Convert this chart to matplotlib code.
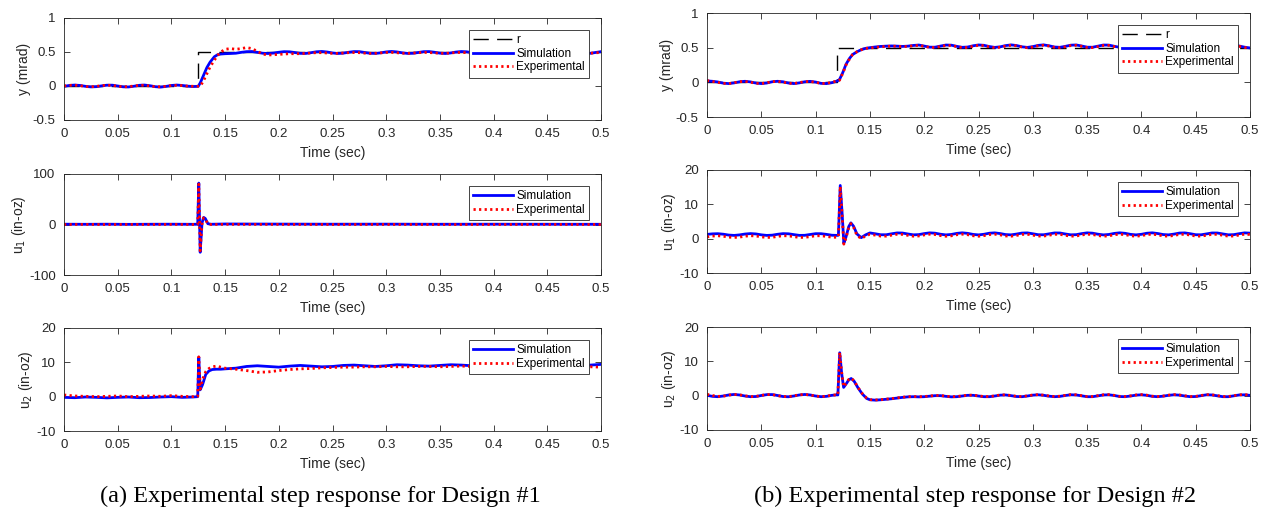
import numpy as np
import matplotlib
matplotlib.use("Agg")
import matplotlib.pyplot as plt

plt.rcParams['font.family'] = ['Liberation Sans', 'DejaVu Sans']
plt.rcParams['axes.unicode_minus'] = False


def grid(a, b, step=0.005):
    return np.round(np.arange(a, b + step / 2, step), 4)


# ---------------- Design #1 ----------------
# y (mrad)
t_ay = np.concatenate([grid(0, 0.125), [0.127, 0.130, 0.133, 0.136, 0.140, 0.143, 0.146], grid(0.15, 0.5)])
ay_sim = [-0.005, 0.008, 0.014, 0.008, -0.005, -0.013, -0.010, 0.002, 0.012, 0.012,
          0.000, -0.012, -0.014, -0.004, 0.010, 0.014, 0.004, -0.010, -0.016, -0.006,
          0.008, 0.014, 0.008, -0.002, -0.008, -0.005,
          0.05, 0.16, 0.27, 0.35, 0.43, 0.46, 0.47,
          0.475, 0.478, 0.482, 0.495, 0.505, 0.507, 0.495, 0.482, 0.478, 0.484,
          0.496, 0.505, 0.503, 0.492, 0.480, 0.479, 0.490, 0.503, 0.508, 0.500,
          0.486, 0.478, 0.483, 0.496, 0.506, 0.505, 0.493, 0.481, 0.479, 0.488,
          0.501, 0.508, 0.501, 0.488, 0.479, 0.481, 0.493, 0.505, 0.506, 0.496,
          0.483, 0.478, 0.486, 0.499, 0.507, 0.503, 0.490, 0.480, 0.480, 0.491,
          0.503, 0.507, 0.499, 0.486, 0.478, 0.483, 0.495, 0.506, 0.505, 0.494,
          0.482, 0.478, 0.487, 0.500, 0.508, 0.502, 0.489, 0.480, 0.481, 0.493,
          0.505]
ay_exp = [0.000, 0.010, 0.012, 0.004, -0.008, -0.012, -0.006, 0.006, 0.012, 0.008,
          -0.004, -0.012, -0.010, 0.000, 0.010, 0.010, 0.000, -0.010, -0.012, -0.004,
          0.006, 0.010, 0.006, -0.002, -0.004, -0.004,
          0.00, 0.08, 0.18, 0.28, 0.38, 0.45, 0.50,
          0.540, 0.550, 0.540, 0.550, 0.565, 0.550, 0.510, 0.470, 0.455, 0.460,
          0.465, 0.470, 0.475, 0.475, 0.475, 0.480, 0.485, 0.490, 0.490, 0.485,
          0.480, 0.480, 0.485, 0.490, 0.492, 0.490, 0.483, 0.480, 0.481, 0.487,
          0.493, 0.494, 0.489, 0.482, 0.480, 0.484, 0.490, 0.494, 0.492, 0.486,
          0.481, 0.481, 0.486, 0.492, 0.494, 0.490, 0.484, 0.480, 0.482, 0.488,
          0.493, 0.494, 0.488, 0.482, 0.480, 0.484, 0.490, 0.494, 0.492, 0.486,
          0.481, 0.481, 0.486, 0.492, 0.494, 0.490, 0.484, 0.480, 0.482, 0.488,
          0.493]
t_ra = [0, 0.125, 0.125, 0.5]
r_a = [0, 0, 0.5, 0.5]

# u1 (in-oz)
t_au1 = [0, 0.02, 0.04, 0.06, 0.08, 0.1, 0.12, 0.1245, 0.1255, 0.1268, 0.1285, 0.1300,
         0.1315, 0.1340, 0.1370, 0.15, 0.2, 0.25, 0.3, 0.35, 0.4, 0.45, 0.5]
au1_sim = [0.6, 0.4, 0.6, 0.3, 0.5, 0.6, 0.4, 0.5, 82, -55, 3, 14, 12, 1.5, 0.5,
           1.0, 0.8, 0.6, 0.7, 0.5, 0.6, 0.5, 0.4]
au1_exp = [0.0, 0.2, -0.1, 0.1, 0.0, 0.2, 0.0, 0.0, 80, -52, 1, 13, 11, 1.0, 0.0,
           0.3, 0.2, 0.0, 0.1, -0.1, 0.0, 0.1, 0.0]

# u2 (in-oz)
t_au2 = np.concatenate([grid(0, 0.12, 0.01),
                        [0.1245, 0.1255, 0.1268, 0.129, 0.132, 0.135, 0.138, 0.142, 0.146],
                        grid(0.15, 0.5, 0.01)])
au2_sim = [-0.2, -0.3, -0.1, -0.2, -0.35, -0.2, -0.1, -0.3, -0.25, -0.1, 0.0, -0.2, -0.1,
           0.0, 11.5, 2.0, 3.5, 6.5, 7.5, 7.9, 8.0, 8.0,
           8.1, 8.3, 8.8, 9.0, 8.8, 8.6, 8.9, 9.1, 8.9, 8.7,
           8.8, 9.1, 9.2, 9.0, 8.8, 9.0, 9.3, 9.2, 9.0, 8.9,
           9.1, 9.3, 9.2, 9.0, 9.0, 9.2, 9.4, 9.2, 9.0, 9.1,
           9.3, 9.4, 9.2, 9.1, 9.2, 9.4]
au2_exp = [0.5, 0.2, 0.1, 0.0, 0.1, 0.2, 0.0, 0.1, 0.2, 0.1, 0.3, 0.1, 0.0,
           0.1, 11.6, 2.2, 5.0, 7.3, 8.2, 8.7, 8.9, 8.6,
           8.3, 8.0, 7.6, 7.1, 7.2, 7.6, 7.9, 8.1, 8.2, 8.4,
           8.5, 8.6, 8.6, 8.7, 8.7, 8.8, 8.7, 8.7, 8.8, 8.8,
           8.7, 8.8, 8.9, 8.8, 8.7, 8.8, 8.9, 8.8, 8.7, 8.7,
           8.8, 8.7, 8.6, 8.6, 8.7, 8.6]

# ---------------- Design #2 ----------------
t_by = np.concatenate([grid(0, 0.12), [0.122, 0.125, 0.128, 0.131, 0.134, 0.138, 0.142, 0.146], grid(0.15, 0.5)])
by_sim = [0.020, 0.015, 0.005, -0.012, -0.018, -0.008, 0.008, 0.015, 0.006, -0.010,
          -0.018, -0.010, 0.008, 0.015, 0.008, -0.010, -0.018, -0.008, 0.008, 0.014,
          0.004, -0.015, -0.018, -0.005, 0.020,
          0.04, 0.14, 0.26, 0.34, 0.40, 0.44, 0.47, 0.49,
          0.500, 0.510, 0.518, 0.522, 0.525, 0.522, 0.518, 0.522, 0.532,
          0.538, 0.523, 0.507, 0.507, 0.523, 0.538, 0.536, 0.519, 0.505, 0.509,
          0.527, 0.539, 0.534, 0.516, 0.504, 0.512, 0.530, 0.540, 0.531, 0.512,
          0.504, 0.515, 0.533, 0.540, 0.527, 0.509, 0.505, 0.519, 0.536, 0.539,
          0.524, 0.507, 0.506, 0.522, 0.538, 0.537, 0.520, 0.505, 0.508, 0.526,
          0.539, 0.534, 0.516, 0.504, 0.511, 0.530, 0.540, 0.531, 0.513, 0.504,
          0.514, 0.533, 0.540, 0.528, 0.510, 0.505, 0.518, 0.535, 0.539, 0.524,
          0.507, 0.496]
by_exp = [0.025, 0.012, 0.000, -0.015, -0.018, -0.005, 0.010, 0.012, 0.002, -0.014,
          -0.018, -0.006, 0.010, 0.013, 0.004, -0.013, -0.017, -0.004, 0.010, 0.012,
          0.000, -0.016, -0.015, 0.000, 0.022,
          0.03, 0.13, 0.25, 0.33, 0.40, 0.44, 0.47, 0.49,
          0.495, 0.505, 0.512, 0.518, 0.522, 0.520, 0.515, 0.518, 0.527,
          0.533, 0.520, 0.503, 0.502, 0.517, 0.532, 0.532, 0.515, 0.500, 0.503,
          0.521, 0.534, 0.530, 0.512, 0.499, 0.506, 0.524, 0.535, 0.527, 0.508,
          0.499, 0.509, 0.527, 0.535, 0.523, 0.505, 0.500, 0.513, 0.530, 0.534,
          0.520, 0.503, 0.501, 0.516, 0.532, 0.533, 0.516, 0.500, 0.502, 0.520,
          0.534, 0.530, 0.512, 0.499, 0.505, 0.524, 0.535, 0.527, 0.509, 0.499,
          0.508, 0.527, 0.535, 0.524, 0.506, 0.500, 0.512, 0.530, 0.534, 0.520,
          0.503, 0.492]
t_rb = [0, 0.12, 0.12, 0.5]
r_b = [0, 0, 0.5, 0.5]

t_bu1 = np.concatenate([grid(0, 0.12),
                        [0.121, 0.1227, 0.1245, 0.126, 0.128, 0.1305, 0.1325, 0.135, 0.138, 0.142, 0.146],
                        grid(0.15, 0.5)])
bu1_sim = [1.25, 1.40, 1.45, 1.30, 1.05, 0.95, 1.10, 1.35, 1.48, 1.38,
           1.12, 0.95, 1.02, 1.28, 1.47, 1.42, 1.18, 0.96, 0.98, 1.22,
           1.45, 1.45, 1.25, 1.00, 0.95,
           1.0, 15.5, 7.0, -1.3, 0.5, 3.5, 4.6, 3.6, 1.4, 0.3, 1.1,
           1.67, 1.42, 1.14, 1.14, 1.42, 1.67, 1.64, 1.36, 1.12, 1.18,
           1.48, 1.69, 1.60, 1.29, 1.10, 1.23, 1.54, 1.70, 1.55, 1.24,
           1.10, 1.28, 1.59, 1.69, 1.49, 1.19, 1.11, 1.34, 1.63, 1.68,
           1.43, 1.15, 1.14, 1.40, 1.67, 1.65, 1.36, 1.12, 1.17, 1.47,
           1.69, 1.60, 1.30, 1.10, 1.22, 1.53, 1.70, 1.56, 1.25, 1.10,
           1.27, 1.58, 1.70, 1.50, 1.20, 1.11, 1.33, 1.63, 1.68, 1.44,
           1.15, 1.13, 1.39, 1.66, 1.65, 1.38, 1.12, 1.17, 1.45, 1.69,
           1.61]
bu1_exp = [0.50, 0.75, 0.85, 0.70, 0.45, 0.35, 0.45, 0.72, 0.86, 0.78,
           0.52, 0.35, 0.40, 0.65, 0.85, 0.82, 0.58, 0.36, 0.38, 0.60,
           0.84, 0.85, 0.65, 0.42, 0.40,
           0.5, 15.2, 6.5, -1.6, 0.2, 3.2, 4.4, 3.3, 1.0, 0.0, 0.8,
           1.27, 1.02, 0.74, 0.74, 1.02, 1.27, 1.24, 0.96, 0.72, 0.78,
           1.08, 1.29, 1.20, 0.89, 0.70, 0.83, 1.14, 1.30, 1.15, 0.84,
           0.70, 0.88, 1.19, 1.29, 1.09, 0.79, 0.71, 0.94, 1.23, 1.28,
           1.03, 0.75, 0.74, 1.00, 1.27, 1.25, 0.96, 0.72, 0.77, 1.07,
           1.29, 1.20, 0.90, 0.70, 0.82, 1.13, 1.30, 1.16, 0.85, 0.70,
           0.87, 1.18, 1.30, 1.10, 0.80, 0.71, 0.93, 1.23, 1.28, 1.04,
           0.75, 0.73, 0.99, 1.26, 1.25, 0.98, 0.72, 0.77, 1.05, 1.29,
           1.21]

t_bu2 = np.concatenate([grid(0, 0.12),
                        [0.1205, 0.1222, 0.124, 0.1258, 0.1285, 0.1305, 0.1328, 0.1355, 0.139, 0.143, 0.147],
                        grid(0.15, 0.5)])
bu2_sim = [0.10, -0.20, -0.30, -0.10, 0.20, 0.35, 0.20, -0.10, -0.30, -0.25,
           0.05, 0.30, 0.32, 0.05, -0.25, -0.32, -0.10, 0.20, 0.35, 0.20,
           -0.10, -0.30, -0.20, 0.10, 0.25,
           0.2, 12.5, 6.5, 2.4, 3.6, 4.6, 5.0, 4.2, 2.3, 0.5, -0.8,
           -1.20, -1.30, -1.20, -1.05, -0.90, -0.70, -0.50, -0.35, -0.30, -0.35,
           -0.30, -0.15, 0.00, 0.00, -0.20, -0.35, -0.30, -0.10, 0.10, 0.10,
           -0.10, -0.30, -0.30, -0.10, 0.15, 0.20, 0.00, -0.25, -0.30, -0.10,
           0.15, 0.25, 0.10, -0.15, -0.30, -0.20, 0.05, 0.25, 0.20, -0.05,
           -0.30, -0.30, -0.05, 0.20, 0.25, 0.05, -0.25, -0.30, -0.10, 0.15,
           0.25, 0.10, -0.20, -0.30, -0.15, 0.10, 0.25, 0.15, -0.10, -0.30,
           -0.25, 0.00, 0.25, 0.20, -0.05, -0.30, -0.30, -0.05, 0.20, 0.25,
           0.10]
bu2_exp = [0.40, 0.05, -0.20, -0.15, 0.15, 0.35, 0.25, -0.05, -0.28, -0.22,
           0.08, 0.32, 0.30, 0.02, -0.25, -0.28, -0.05, 0.25, 0.35, 0.18,
           -0.12, -0.28, -0.15, 0.12, 0.28,
           0.2, 12.6, 6.8, 2.6, 3.8, 4.7, 5.1, 4.3, 2.4, 0.6, -0.7,
           -1.15, -1.25, -1.15, -1.00, -0.85, -0.65, -0.45, -0.30, -0.25, -0.30,
           -0.25, -0.10, 0.05, 0.05, -0.15, -0.30, -0.25, -0.05, 0.15, 0.15,
           -0.05, -0.25, -0.25, -0.05, 0.20, 0.25, 0.05, -0.20, -0.25, -0.05,
           0.20, 0.30, 0.15, -0.10, -0.25, -0.15, 0.10, 0.30, 0.25, 0.00,
           -0.25, -0.25, 0.00, 0.25, 0.30, 0.10, -0.20, -0.25, -0.05, 0.20,
           0.30, 0.15, -0.15, -0.25, -0.10, 0.15, 0.30, 0.20, -0.05, -0.25,
           -0.20, 0.05, 0.30, 0.25, 0.00, -0.25, -0.25, 0.00, 0.25, 0.30,
           0.20]

x_ticks = [0, 0.05, 0.1, 0.15, 0.2, 0.25, 0.3, 0.35, 0.4, 0.45, 0.5]
ink = "#262626"

W, H = 1263, 517
fig = plt.figure(figsize=(W / 100, H / 100), dpi=100)


def panel(box, t, sim, exp, ylim, yticks, ylabel, tr=None, r=None):
    x0, top, x1, bot = box
    ax = fig.add_axes([x0 / W, 1 - bot / H, (x1 - x0) / W, (bot - top) / H])
    if r is not None:
        ax.plot(tr, r, color="k", lw=1.0, ls=(0, (11, 6)), label="r")
    ax.plot(t, sim, color=(0, 0, 1), lw=2.0, label="Simulation")
    ax.plot(t, exp, color=(1, 0, 0), lw=2.0, ls=(0, (0.8, 1.2)), label="Experimental")
    ax.set_xlim(0, 0.5)
    ax.set_ylim(*ylim)
    ax.set_xticks(x_ticks)
    ax.set_xticklabels(["{:g}".format(v) for v in x_ticks])
    ax.set_yticks(yticks)
    ax.set_yticklabels(["{:g}".format(v) for v in yticks])
    ax.tick_params(direction="in", top=True, right=True, length=4, width=0.6,
                   colors=ink, labelsize=9.5, pad=6)
    for s in ax.spines.values():
        s.set_color(ink)
        s.set_linewidth(0.6)
    ax.set_xlabel("Time (sec)", fontsize=10, color=ink, labelpad=4)
    ax.set_ylabel(ylabel, fontsize=10, color=ink, labelpad=1)
    leg = ax.legend(loc="upper right", fontsize=8.5, handlelength=3.4, handletextpad=0.3,
                    labelspacing=0.15, borderpad=0.35, borderaxespad=1.0, fancybox=False,
                    framealpha=1)
    leg.get_frame().set_edgecolor(ink)
    leg.get_frame().set_linewidth(0.6)
    return ax


panel((64, 18, 601, 120), t_ay, ay_sim, ay_exp, (-0.5, 1), [-0.5, 0, 0.5, 1], "y (mrad)", t_ra, r_a)
panel((64, 174, 601, 275), t_au1, au1_sim, au1_exp, (-100, 100), [-100, 0, 100], "u$_1$ (in-oz)")
panel((64, 328, 601, 431), t_au2, au2_sim, au2_exp, (-10, 20), [-10, 0, 10, 20], "u$_2$ (in-oz)")
panel((707, 13, 1250, 117), t_by, by_sim, by_exp, (-0.5, 1), [-0.5, 0, 0.5, 1], "y (mrad)", t_rb, r_b)
panel((707, 170, 1250, 273), t_bu1, bu1_sim, bu1_exp, (-10, 20), [-10, 0, 10, 20], "u$_1$ (in-oz)")
panel((707, 327, 1250, 430), t_bu2, bu2_sim, bu2_exp, (-10, 20), [-10, 0, 10, 20], "u$_2$ (in-oz)")

fig.text(320 / W, 1 - 496 / H, "(a) Experimental step response for Design #1",
         ha="center", va="center", fontsize=17.5, family="Liberation Serif")
fig.text(975 / W, 1 - 496 / H, "(b) Experimental step response for Design #2",
         ha="center", va="center", fontsize=17.5, family="Liberation Serif")

fig.savefig("out.png", dpi=100)
